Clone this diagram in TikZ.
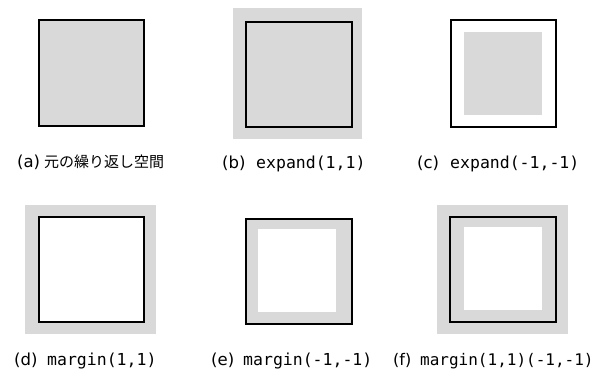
\documentclass[tikz,border=0pt]{standalone}
\usepackage{fontspec}
\setmainfont{DejaVu Sans}
\setmonofont{DejaVu Sans Mono}
\newfontfamily\jpfont{Noto Sans CJK JP}
\definecolor{shade}{HTML}{D9D9D9}
\begin{document}
\begin{tikzpicture}[x=1pt,y=-1pt,
  box/.style={draw=black,line width=1.5pt},
  pad/.style={fill=shade,draw=none},
  hole/.style={fill=white,draw=none},
  tag/.style={anchor=base west,inner sep=0pt,font=\fontsize{16.5}{19}\selectfont},
  code/.style={anchor=base west,inner sep=0pt,font=\fontsize{16.5}{19}\selectfont\ttfamily}]
\useasboundingbox (0,0) rectangle (616,372);
% (a)
\path[box,fill=shade] (39,20) rectangle (144,126);
\node[tag] (ta) at (17,167) {(a)};
\node[tag,font=\fontsize{15}{18}\selectfont\jpfont] (ja) at (44,167) {元の繰り返し空間};
% (b)
\path[pad] (233,8) rectangle (362,139);
\path[box] (246,22) rectangle (352,127);
\node[tag] (tb) at (222,168) {(b)};
\node[code] (cb) at (256,168) {expand(1,1)};
% (c)
\path[box] (451,20) rectangle (556,127);
\path[pad] (464,32) rectangle (542,115);
\node[tag] (tc) at (417,168) {(c)};
\node[code] (cc) at (450,168) {expand(-1,-1)};
% (d)
\path[pad] (25,205) rectangle (156,334);
\path[box,fill=white] (39,217) rectangle (144,322);
\node[tag] (td) at (14,365) {(d)};
\node[code] (cd) at (47,365) {margin(1,1)};
% (e)
\path[pad] (246,219) rectangle (352,324);
\path[hole] (258,229) rectangle (336,312);
\path[box] (246,219) rectangle (352,324);
\node[tag] (te) at (211,365) {(e)};
\node[code] (ce) at (243,365) {margin(-1,-1)};
% (f)
\path[pad] (437,205) rectangle (568,334);
\path[box] (450,217) rectangle (556,322);
\path[hole] (464,227) rectangle (542,310);
\node[tag,font=\fontsize{16}{19}\selectfont] (tf) at (393,365) {(f)};
\node[code,font=\fontsize{16}{19}\selectfont\ttfamily] (cf) at (420,365) {margin(1,1)(-1,-1)};
\end{tikzpicture}
\end{document}
